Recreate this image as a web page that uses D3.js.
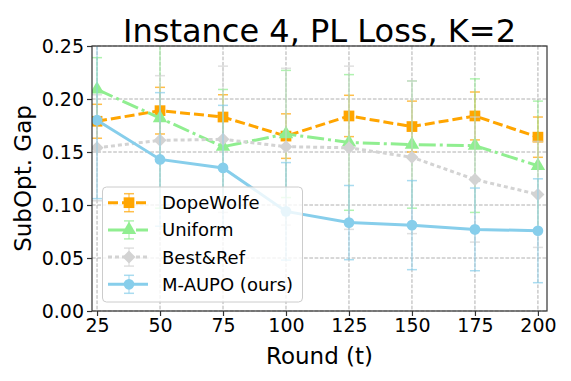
<!DOCTYPE html>
<html>
<head>
<meta charset="utf-8">
<script src="https://cdn.jsdelivr.net/npm/d3@7"></script>
<style>
	body { margin:0; background:#fff; }
	text { font-family: "DejaVu Sans", sans-serif; fill:#000; }
</style>
</head>
<body>
<div id="chart"></div>
<script>
var rounds = [25, 50, 75, 100, 125, 150, 175, 200];
var seriesNames = ["DopeWolfe", "Uniform", "Best&Ref", "M-AUPO (ours)"];

var dopeMean = [0.179, 0.189, 0.183, 0.165, 0.184, 0.174, 0.184, 0.164];
var dopeErr  = [0.016, 0.022, 0.021, 0.021, 0.0195, 0.024, 0.0226, 0.019];
var unifMean = [0.209, 0.182, 0.155, 0.167, 0.159, 0.157, 0.156, 0.137];
var unifErr  = [0.030, 0.085, 0.054, 0.060, 0.064, 0.060, 0.063, 0.061];
var bestMean = [0.154, 0.161, 0.162, 0.155, 0.154, 0.145, 0.124, 0.110];
var bestErr  = [0.050, 0.061, 0.069, 0.074, 0.077, 0.072, 0.059, 0.050];
var aupoMean = [0.180, 0.143, 0.135, 0.094, 0.0834, 0.081, 0.077, 0.0757];
var aupoErr  = [0.074, 0.063, 0.059, 0.046, 0.035, 0.042, 0.039, 0.049];

var yTicks = [0.00, 0.05, 0.10, 0.15, 0.20, 0.25];
var xTicks = rounds;

function drawChart()
{
	var W = 571, H = 381;
	var left = 92, right = 547, top = 46, bottom = 311;

	var svg = d3.select("#chart").append("svg")
		.attr("width", W).attr("height", H);

	var x = d3.scaleLinear().domain([23.0, 203.6]).range([left, right]);
	var y = d3.scaleLinear().domain([0, 0.25]).range([bottom, top]);

	svg.append("clipPath").attr("id", "plotClip")
		.append("rect").attr("x", left).attr("y", top)
		.attr("width", right - left).attr("height", bottom - top);

	// grid
	var grid = svg.append("g");
	xTicks.forEach(function(t){
		grid.append("line")
			.attr("x1", x(t)).attr("x2", x(t)).attr("y1", top).attr("y2", bottom)
			.attr("stroke", "#b0b0b0").attr("stroke-width", 1).attr("stroke-dasharray", "3.7,1.6");
	});
	yTicks.forEach(function(t){
		grid.append("line")
			.attr("x1", left).attr("x2", right).attr("y1", y(t)).attr("y2", y(t))
			.attr("stroke", "#b0b0b0").attr("stroke-width", 1).attr("stroke-dasharray", "3.7,1.6");
	});

	var series = [
		{ name: seriesNames[0], mean: dopeMean, err: dopeErr, color: "#FFA500", dash: "10,4", marker: "square" },
		{ name: seriesNames[1], mean: unifMean, err: unifErr, color: "#90EE90", dash: "17,4,3,4", marker: "triangle" },
		{ name: seriesNames[2], mean: bestMean, err: bestErr, color: "#D3D3D3", dash: "4,3", marker: "diamond" },
		{ name: seriesNames[3], mean: aupoMean, err: aupoErr, color: "#87CEEB", dash: null, marker: "circle" }
	];

	var symbols = {
		square: d3.symbol().type(d3.symbolSquare).size(115),
		triangle: d3.symbol().type(d3.symbolTriangle).size(90),
		diamond: d3.symbol().type(d3.symbolSquare).size(85),
		circle: d3.symbol().type(d3.symbolCircle).size(90)
	};

	var plot = svg.append("g").attr("clip-path", "url(#plotClip)");
	var line = d3.line().x(function(d){ return x(d[0]); }).y(function(d){ return y(d[1]); });

	series.forEach(function(s){
		var g = plot.append("g");
		var pts = rounds.map(function(r, i){ return [r, s.mean[i], s.err[i]]; });
		// error bars
		pts.forEach(function(p){
			g.append("line")
				.attr("x1", x(p[0])).attr("x2", x(p[0]))
				.attr("y1", y(p[1] - p[2])).attr("y2", y(p[1] + p[2]))
				.attr("stroke", s.color).attr("stroke-width", 1.5).attr("opacity", 0.55);
			[p[1] - p[2], p[1] + p[2]].forEach(function(v){
				g.append("line")
					.attr("x1", x(p[0]) - 5).attr("x2", x(p[0]) + 5)
					.attr("y1", y(v)).attr("y2", y(v))
					.attr("stroke", s.color).attr("stroke-width", 1.5).attr("opacity", 0.7);
			});
		});
		g.append("path")
			.attr("d", line(pts))
			.attr("fill", "none").attr("stroke", s.color).attr("stroke-width", 3)
			.attr("stroke-dasharray", s.dash);
		pts.forEach(function(p){
			g.append("path")
				.attr("d", symbols[s.marker]())
				.attr("transform", "translate(" + x(p[0]) + "," + y(p[1]) + ")" + (s.marker == "diamond" ? " rotate(45)" : ""))
				.attr("fill", s.color);
		});
	});

	// frame
	svg.append("rect")
		.attr("x", left).attr("y", top).attr("width", right - left).attr("height", bottom - top)
		.attr("fill", "none").attr("stroke", "#333").attr("stroke-width", 1.2);

	var xAxis = svg.append("g").attr("transform", "translate(0," + bottom + ")")
		.call(d3.axisBottom(x).tickValues(xTicks).tickSize(5).tickPadding(3).tickFormat(d3.format("d")));
	var yAxis = svg.append("g").attr("transform", "translate(" + left + ",0)")
		.call(d3.axisLeft(y).tickValues(yTicks).tickSize(5).tickPadding(3).tickFormat(d3.format(".2f")));
	[xAxis, yAxis].forEach(function(a){
		a.select(".domain").remove();
		a.selectAll("line").attr("stroke", "#333").attr("stroke-width", 1.2);
		a.selectAll("text").attr("font-size", 19).attr("font-family", "DejaVu Sans").attr("fill", "#000");
	});
	yAxis.selectAll("text").attr("dy", "0.35em");

	// title and labels
	svg.append("text").attr("x", (left + right) / 2).attr("y", 42)
		.attr("text-anchor", "middle").attr("font-size", 32).text("Instance 4, PL Loss, K=2");
	svg.append("text").attr("x", (left + right) / 2).attr("y", 364)
		.attr("text-anchor", "middle").attr("font-size", 23).text("Round (t)");
	svg.append("text").attr("transform", "translate(31," + ((top + bottom) / 2) + ") rotate(-90)")
		.attr("text-anchor", "middle").attr("font-size", 23).text("SubOpt. Gap");

	// legend
	var lg = svg.append("g");
	lg.append("rect").attr("x", 102.5).attr("y", 187).attr("width", 200).attr("height", 115)
		.attr("rx", 4).attr("fill", "#fff").attr("fill-opacity", 0.8)
		.attr("stroke", "#cccccc").attr("stroke-width", 1);
	series.forEach(function(s, i){
		var cy = 202.7 + i * 27.2;
		var e = lg.append("g");
		e.append("line").attr("x1", 129).attr("x2", 129).attr("y1", cy - 9).attr("y2", cy + 9)
			.attr("stroke", s.color).attr("stroke-width", 1.5).attr("opacity", 0.55);
		[cy - 9, cy + 9].forEach(function(v){
			e.append("line").attr("x1", 124).attr("x2", 134).attr("y1", v).attr("y2", v)
				.attr("stroke", s.color).attr("stroke-width", 1.5).attr("opacity", 0.7);
		});
		e.append("line").attr("x1", 108).attr("x2", 148).attr("y1", cy).attr("y2", cy)
			.attr("stroke", s.color).attr("stroke-width", 3).attr("stroke-dasharray", s.dash);
		e.append("path").attr("d", symbols[s.marker]())
			.attr("transform", "translate(129," + cy + ")" + (s.marker == "diamond" ? " rotate(45)" : ""))
			.attr("fill", s.color);
		e.append("text").attr("x", 162).attr("y", cy + 6.5).attr("font-size", 18).text(s.name);
	});
}

drawChart();
</script>
</body>
</html>
